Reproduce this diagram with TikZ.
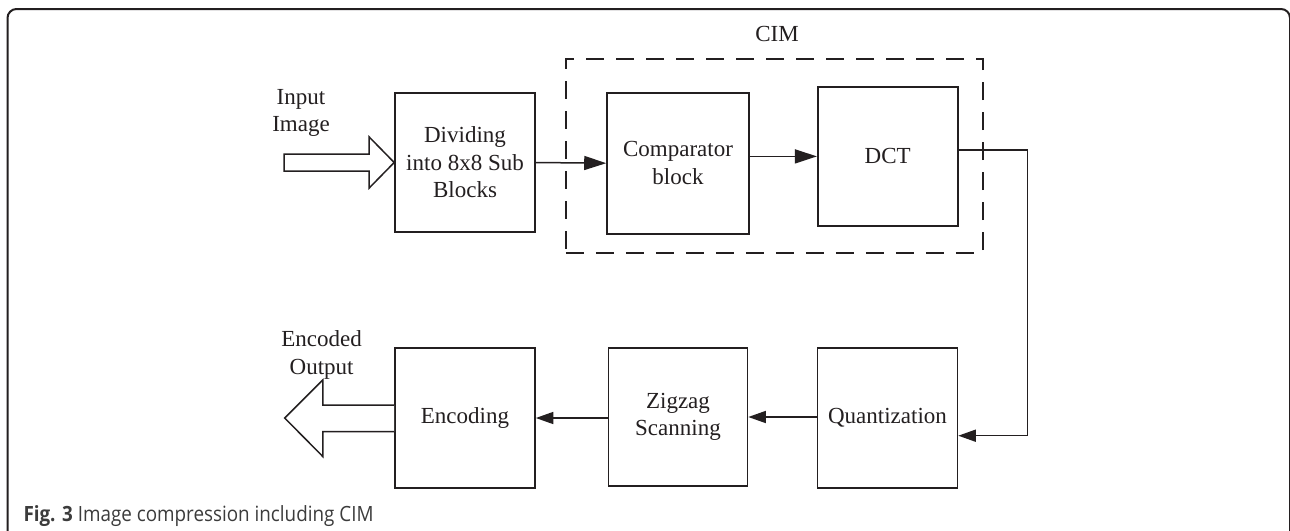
\documentclass[tikz,border=0pt]{standalone}
\usepackage{fontspec}
\setmainfont{Liberation Serif}
\newfontfamily\capfont{Open Sans}
\usetikzlibrary{arrows.meta,calc}
\definecolor{ink}{RGB}{35,31,32}
\definecolor{capink}{RGB}{60,60,60}
\begin{document}
\begin{tikzpicture}[x=1pt,y=-1pt,
  every node/.style={text=ink},
  blockbox/.style={draw=ink,line width=1.6pt,minimum width=140pt,minimum height=139pt,
     inner sep=0pt,align=center,font=\fontsize{23}{27.5}\selectfont},
  lbl/.style={align=center,inner sep=0pt,font=\fontsize{23}{27.5}\selectfont},
  conn/.style={draw=ink,line width=1.5pt},
  bigtip/.style={conn,-{Triangle[length=22pt,width=14pt]}},
  smalltip/.style={conn,-{Triangle[length=17.5pt,width=12pt]}},
  hollow/.style={draw=ink,line width=1.5pt,line join=miter,fill=white},
  cimbox/.style={draw=ink,line width=1.5pt,dash pattern=on 18pt off 12pt,
     minimum width=417pt,minimum height=194pt,inner sep=0pt}
]
\useasboundingbox (0,0) rectangle (1290,530);
\clip (0,0) rectangle (1290,530);
\fill[white] (0,0) rectangle (1290,530);
% outer frame
\draw[ink,line width=2pt,rounded corners=9pt] (7.5,560) -- (7.5,9) -- (1290,9) -- (1290,560);

% CIM dashed box
\node[cimbox] (cim) at (774.4,156) {};
\node[lbl] (cimlabel) at (777,34) {CIM};

% blocks
\node[blockbox] (div) at (465,162.5) {Dividing\\into 8x8 Sub\\Blocks};
\node[blockbox,minimum width=142pt,minimum height=141pt] (cmp) at (678,163.2) {Comparator\\block};
\node[blockbox] (dct) at (887.7,156.4) {DCT};
\node[blockbox,minimum height=140pt] (enc) at (465,418) {Encoding};
\node[blockbox,minimum width=139pt,minimum height=138pt] (zig) at (678,417) {Zigzag\\Scanning};
\node[blockbox,minimum height=140pt] (qua) at (887.5,418) {Quantization};

% labels
\node[lbl] (inlabel) at (301,113) {Input\\Image};
\node[lbl] (outlabel) at (321.6,355) {Encoded\\Output};

% hollow input arrow (tip at Dividing block)
\draw[hollow] ($(div.west)+(-110,-8.5)$) -- ($(div.west)+(-25,-8.5)$) -- ($(div.west)+(-25,-25.5)$)
   -- (div.west) -- ($(div.west)+(-25,25.5)$) -- ($(div.west)+(-25,8.5)$)
   -- ($(div.west)+(-110,8.5)$) -- cycle;
% hollow output arrow (from Encoding block)
\draw[hollow] ($(enc.west)+(0,-13)$) -- ($(enc.west)+(-71.4,-13)$) -- ($(enc.west)+(-71.4,-38)$)
   -- ($(enc.west)+(-109.5,0)$) -- ($(enc.west)+(-71.4,38.5)$) -- ($(enc.west)+(-71.4,13.7)$)
   -- ($(enc.west)+(0,13.7)$);

% connectors
\draw[bigtip] (div.east) -- (cmp.west);
\draw[bigtip] (cmp.east |- dct.west) -- (dct.west);
\coordinate (turn) at (1027.3,150);
\draw[smalltip] ([yshift=6.4pt]dct.east) -- (turn) |- ([yshift=-17.7pt]qua.east);
\draw[smalltip] (qua.west |- zig.east) -- (zig.east);
\draw[smalltip] (zig.west |- enc.east) -- (enc.east);

% caption
\node[anchor=base west,inner sep=0pt,text=capink] (caption) at (23.3,521.7)
  {\resizebox{350pt}{\height}{\capfont\fontsize{21}{25}\selectfont\textbf{Fig. 3} Image compression including CIM}};
\end{tikzpicture}
\end{document}
